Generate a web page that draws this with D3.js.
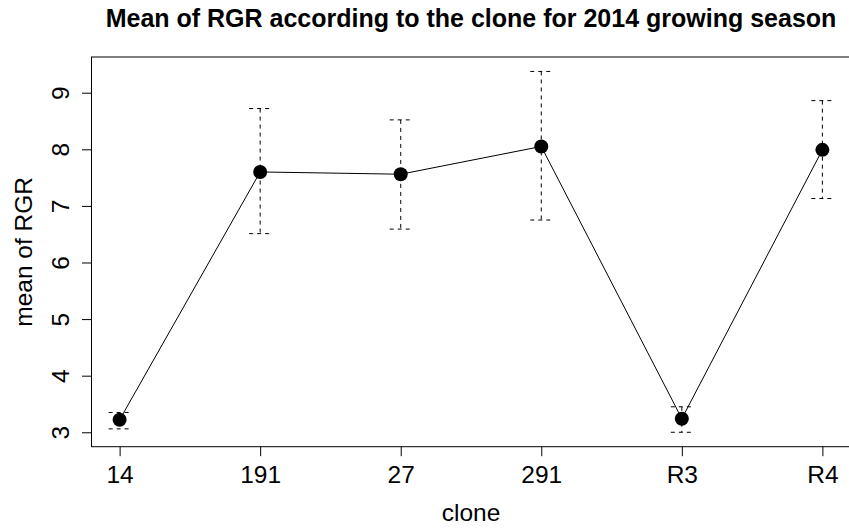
<!DOCTYPE html>
<html>
<head>
  <meta charset="utf-8">
  <title>Mean of RGR</title>
  <script src="https://d3js.org/d3.v7.min.js"></script>
  <style>
    body { margin: 0; background: #fff; }
    text { font-family: "Liberation Sans", Arial, sans-serif; fill: #000; }
  </style>
</head>
<body>
  <svg id="grafico"></svg>

  <script>
    // clones and mean RGR with error bar limits
    const clones = ["14", "191", "27", "291", "R3", "R4"];
    const medias = [3.22, 7.60, 7.56, 8.05, 3.24, 7.99];
    const superior = [3.35, 8.72, 8.52, 9.376, 3.45, 8.86];
    const inferior = [3.06, 6.51, 6.59, 6.75, 3.00, 7.13];
    const ticksY = [3, 4, 5, 6, 7, 8, 9];

    const ancho = 849, alto = 528;
    const izq = 91.5, der = 850.5, arriba = 57, abajo = 446.7;
    const fuente = "24.5px";

    const svg = d3.select("#grafico")
      .attr("width", ancho)
      .attr("height", alto);

    // R style: 4% padding on both axes
    const x = d3.scaleLinear()
      .domain([1 - 0.2, 6 + 0.2])
      .range([izq, der]);

    const yMin = d3.min(inferior), yMax = d3.max(superior);
    const pad = (yMax - yMin) * 0.04;
    const y = d3.scaleLinear()
      .domain([yMin - pad, yMax + pad])
      .range([abajo, arriba]);

    const datos = clones.map((c, i) => ({
      clone: c, pos: i + 1, media: medias[i], sup: superior[i], inf: inferior[i]
    }));

    // frame
    svg.append("rect")
      .attr("x", izq).attr("y", arriba)
      .attr("width", der - izq).attr("height", abajo - arriba)
      .attr("fill", "none").attr("stroke", "#000").attr("stroke-width", 1);

    // x axis
    const ejeX = svg.append("g")
      .attr("transform", `translate(0,${abajo})`)
      .call(d3.axisBottom(x).tickValues([1, 2, 3, 4, 5, 6])
        .tickFormat(d => clones[d - 1]).tickSize(9.5).tickSizeOuter(0).tickPadding(0));
    ejeX.select(".domain").remove();
    ejeX.selectAll("line").attr("stroke", "#000");
    ejeX.selectAll("text")
      .attr("y", 36).attr("dy", null)
      .style("font-size", fuente);

    // y axis
    const ejeY = svg.append("g")
      .attr("transform", `translate(${izq},0)`)
      .call(d3.axisLeft(y).tickValues(ticksY).tickFormat(d3.format("d"))
        .tickSize(9.5).tickSizeOuter(0));
    ejeY.select(".domain").remove();
    ejeY.selectAll("line").attr("stroke", "#000");
    ejeY.selectAll("text")
      .attr("x", null).attr("dy", null)
      .attr("text-anchor", "middle")
      .attr("transform", "translate(-22.5,0) rotate(-90)")
      .style("font-size", fuente);

    // error bars
    const barras = svg.append("g")
      .attr("stroke", "#000").attr("stroke-width", 1)
      .attr("stroke-dasharray", "4,4").attr("fill", "none");

    barras.selectAll(".vert")
      .data(datos).enter().append("line")
      .attr("x1", d => x(d.pos)).attr("x2", d => x(d.pos))
      .attr("y1", d => y(d.sup)).attr("y2", d => y(d.inf));

    barras.selectAll(".capS")
      .data(datos).enter().append("line")
      .attr("x1", d => x(d.pos) - 11).attr("x2", d => x(d.pos) + 11)
      .attr("y1", d => y(d.sup)).attr("y2", d => y(d.sup));

    barras.selectAll(".capI")
      .data(datos).enter().append("line")
      .attr("x1", d => x(d.pos) - 11).attr("x2", d => x(d.pos) + 11)
      .attr("y1", d => y(d.inf)).attr("y2", d => y(d.inf));

    // line and points
    const linea = d3.line().x(d => x(d.pos)).y(d => y(d.media));
    svg.append("path")
      .datum(datos)
      .attr("d", linea)
      .attr("fill", "none").attr("stroke", "#000").attr("stroke-width", 1);

    svg.selectAll(".punto")
      .data(datos).enter().append("circle")
      .attr("cx", d => x(d.pos)).attr("cy", d => y(d.media))
      .attr("r", 7).attr("fill", "#000");

    // titles
    svg.append("text")
      .attr("x", (izq + der) / 2).attr("y", 27)
      .attr("text-anchor", "middle")
      .style("font-size", "25px").style("font-weight", "bold")
      .text("Mean of RGR according to the clone for 2014 growing season");

    svg.append("text")
      .attr("x", (izq + der) / 2).attr("y", 521)
      .attr("text-anchor", "middle")
      .style("font-size", fuente)
      .text("clone");

    svg.append("text")
      .attr("transform", `translate(32,${(arriba + abajo) / 2}) rotate(-90)`)
      .attr("text-anchor", "middle")
      .style("font-size", fuente)
      .text("mean of RGR");
  </script>
</body>
</html>
